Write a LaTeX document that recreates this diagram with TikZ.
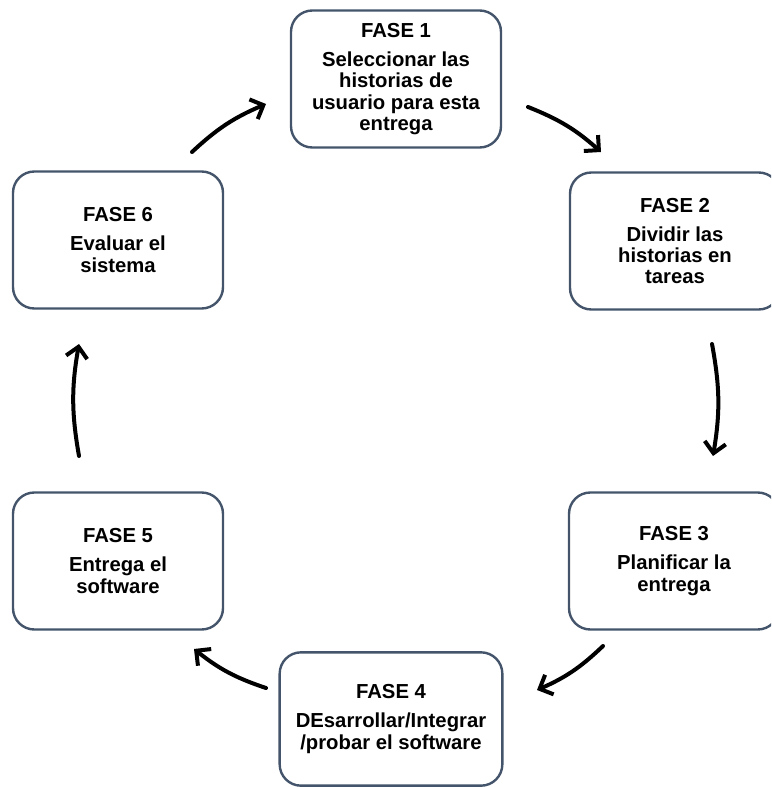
\documentclass[tikz,border=0pt]{standalone}
\usepackage{fontspec}
\setmainfont{Liberation Sans}
\usetikzlibrary{arrows.meta}
\definecolor{boxline}{HTML}{44546A}
\begin{document}
\begin{tikzpicture}[
	x=0.75pt, y=-0.75pt,
	fase/.style={ draw=boxline, line width=1.8pt, rounded corners=16pt, minimum width=157.5pt, minimum height=102.75pt, align=center, inner sep=2pt, font=\bfseries\fontsize{15.2}{15.9}\selectfont },
	cyc/.style={ line width=3pt, line cap=round, -{Straight Barb[length=8pt,width=16pt,line width=3pt]}, bend left=10 }
]
\useasboundingbox (0,0) rectangle (771,787);
\clip (0,0) rectangle (771,787);

\node at (396,79) (f1) [fase] {FASE 1\\[6pt]Seleccionar las\\historias de\\usuario para esta\\entrega};
\node at (675,241) (f2) [fase] {FASE 2\\[6pt]Dividir las\\historias en\\tareas};
\node at (674,561) (f3) [fase] {FASE 3\\[6pt]Planificar la\\entrega};
\node at (391,719) (f4) [fase, minimum width=167pt, minimum height=100pt] {FASE 4\\[6pt]DEsarrollar/Integrar\\/probar el software};
\node at (118,561) (f5) [fase] {FASE 5\\[6pt]Entrega el\\software};
\node at (118,240) (f6) [fase] {FASE 6\\[6pt]Evaluar el\\sistema};

% arrow ends between the boxes
\coordinate (s12) at (528,107); \coordinate (e12) at (601,152);
\coordinate (s23) at (712,344); \coordinate (e23) at (713,456);
\coordinate (s34) at (603,646); \coordinate (e34) at (537,690);
\coordinate (s45) at (266,688); \coordinate (e45) at (194,649);
\coordinate (s56) at (79,456);  \coordinate (e56) at (79,344);
\coordinate (s61) at (192,152); \coordinate (e61) at (266,104);

\foreach \a/\b in {s12/e12,s23/e23,s34/e34,s45/e45,s56/e56,s61/e61} \draw[cyc] (\a) to (\b);

\end{tikzpicture}
\end{document}
